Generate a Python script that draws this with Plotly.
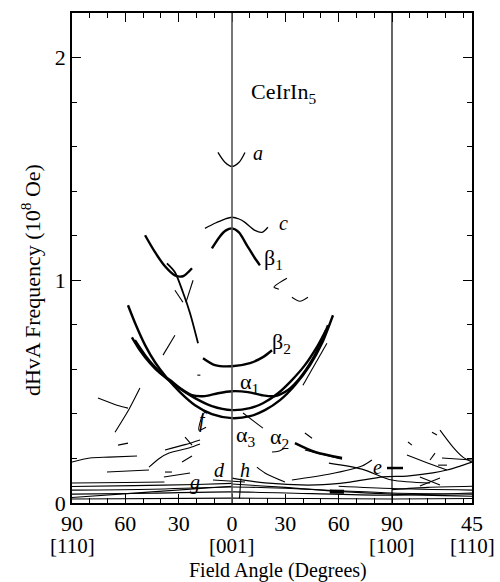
import plotly.graph_objects as go

# ---- main orbits (x = angle position: -90..0 = [110]->[001], 0..90 = [001]->[100], 90..135 = [100]->[110]) ----
a_x = [-7.9, -4, 0, 4, 7.3]
a_y = [1.574, 1.530, 1.511, 1.530, 1.574]
c_x = [-15.2, -9.6, -4, 0, 4, 7.3, 12.9, 16.9, 20.2]
c_y = [1.233, 1.256, 1.275, 1.283, 1.275, 1.260, 1.224, 1.215, 1.238]
b1_x = [-11.3, -6.8, -3.4, 0, 3.9, 8.4, 12.9, 15.7]
b1_y = [1.143, 1.197, 1.224, 1.233, 1.215, 1.157, 1.099, 1.067]
b2_x = [-16.3, -9.6, 0, 10.1, 17.4, 22.5]
b2_y = [0.650, 0.619, 0.614, 0.628, 0.655, 0.686]
a1_x = [-56.3, -51.8, -46.1, -40.5, -34.9, -29.3, -22.5, -15.2, -7.9, 0, 9, 16.9, 24.2, 31.5, 38.2, 45, 50.6, 54]
a1_y = [0.744, 0.686, 0.628, 0.583, 0.552, 0.516, 0.484, 0.480, 0.493, 0.502, 0.498, 0.484, 0.480, 0.507, 0.561, 0.641, 0.731, 0.798]
a3_x = [-58.5, -54, -48.9, -43.3, -36.6, -29.3, -20.8, -11.3, 0, 10.1, 18.5, 27, 35.4, 43.9, 50.6, 56.8]
a3_y = [0.888, 0.798, 0.709, 0.632, 0.561, 0.498, 0.439, 0.399, 0.381, 0.390, 0.417, 0.462, 0.529, 0.619, 0.717, 0.843]
a2_x = [-54.6, -48.9, -43.3, -37.7, -30.4, -20.8, -11.3, 0, 10.1, 17.4, 25.9, 33.7, 41, 48.4, 52.9]
a2_y = [0.731, 0.664, 0.610, 0.565, 0.520, 0.471, 0.435, 0.417, 0.426, 0.448, 0.493, 0.552, 0.619, 0.709, 0.776]
l1_x = [-48.9, -43.3, -37.7, -32.1, -27.6, -22.5]
l1_y = [1.202, 1.126, 1.063, 1.022, 1.018, 1.054]
l2_x = [-36.6, -32.1, -27.6, -23.6, -19.1]
l2_y = [1.076, 1.036, 0.946, 0.852, 0.717]
e1_x = [0, 18.5, 47.8, 66.4, 85, 98.4, 113, 120.9, 135]
e1_y = [0.112, 0.090, 0.081, 0.094, 0.117, 0.121, 0.135, 0.148, 0.184]
thick_seg_x = [35.4, 46.7, 61.9]
thick_seg_y = [0.269, 0.229, 0.202]

# ---- thin fragments: (x list, y list) ----
upper_frags = [
    ([-32.1, -27.6], [0.955, 0.901]),
    ([-21.9, -25.9], [1.000, 0.901]),
    ([30.9, 23.6, 26.4], [1.009, 0.969, 0.960]),
    ([33.7, 38.2, 42.7], [0.924, 0.906, 0.924]),
    ([53.4, 39.9], [0.717, 0.529]),
    ([6.2, 17.4], [0.404, 0.336]),
    ([-16.3, -18.6, -14.6], [0.404, 0.327, 0.340]),
    ([-19.5, -17.8], [0.574, 0.574]),
]
left_frags = [
    ([-75.4, -64.7, -58.5], [0.471, 0.439, 0.426]),
    ([-51.8, -58.0, -65.8], [0.516, 0.42, 0.318]),
    ([-32.1, -38.8], [0.753, 0.664]),
    ([-64.1, -58.5], [0.260, 0.269]),
    ([-90, -79.9, -69.2, -53.4], [0.184, 0.202, 0.206, 0.211]),
    ([-70.3, -46.7], [0.139, 0.148]),
    ([-46.7, -40.5, -35.4, -24.2, -18], [0.161, 0.202, 0.224, 0.247, 0.265]),
    ([-37.7, -26.4, -18], [0.238, 0.262, 0.283]),
    ([-26.4, -22.5], [0.296, 0.260]),
    ([-37.7, -33.8], [0.139, 0.139]),
    ([-38.3, -23.6], [0.117, 0.135]),
    ([-28.1, -22.5], [0.184, 0.211]),
]
right_frags = [
    ([41, 61.9], [0.238, 0.197]),
    ([41, 45], [0.314, 0.291]),
    ([22.5, 26, 29.8], [0.229, 0.232, 0.247]),
    ([14, 18.5, 29.8], [0.161, 0.135, 0.094]),
    ([33.7, 55.1, 73.1, 78.7], [0.103, 0.130, 0.166, 0.193]),
    ([54.5, 73.1, 90, 111.4], [0.179, 0.152, 0.103, 0.090]),
    ([117, 124.3, 129.9, 135], [0.327, 0.251, 0.206, 0.184]),
    ([112.5, 115.3], [0.318, 0.305]),
    ([99, 101.2], [0.274, 0.260]),
    ([98.4, 110, 120.9], [0.215, 0.18, 0.148]),
    ([111.4, 114.2], [0.193, 0.224]),
    ([118.1, 135], [0.202, 0.193]),
    ([115.9, 120.9], [0.170, 0.170]),
    ([105.7, 117], [0.117, 0.081]),
    ([105.7, 117], [0.076, 0.112]),
    ([-10.7, 7.3], [0.103, 0.094]),
    ([5, 4.2], [0.11, 0.02]),
]
bottom_lines = [
    ([-90, -60, -38], [0.090, 0.092, 0.094]),
    ([-90, -55, -20, 0], [0.074, 0.078, 0.083, 0.088]),
    ([-90, -45, 0, 30, 60, 90, 135], [0.058, 0.062, 0.072, 0.066, 0.055, 0.045, 0.040]),
    ([-90, -45, 0, 45, 90, 135], [0.040, 0.044, 0.050, 0.042, 0.035, 0.045]),
    ([-90, -45, 0], [0.025, 0.050, 0.075]),
    ([0, 30, 60, 90, 135], [0.085, 0.070, 0.052, 0.040, 0.030]),
    ([-90, 0, 90, 135], [0.018, 0.022, 0.018, 0.020]),
    ([90, 110, 135], [0.060, 0.070, 0.075]),
    ([60, 90, 135], [0.075, 0.065, 0.058]),
]
blob_x = [55, 63]
blob_y = [0.052, 0.050]
dash_e_x = [87.2, 96.2]
dash_e_y = [0.157, 0.157]

# ---- axis ticks ----
x_tickvals = [-90, -60, -30, 0, 30, 60, 90, 135]
x_ticktext = ["90", "60", "30", "0", "30", "60", "90", "45"]
dir_vals = [-90, 0, 90, 135]
dir_text = ["[110]", "[001]", "[100]", "[110]"]
y_tickvals = [0, 1, 2]
y_ticktext = ["0", "1", "2"]

# ---- labels ----
label_text = ["<i>a</i>", "<i>c</i>", "β<sub>1</sub>", "β<sub>2</sub>", "α<sub>1</sub>", "α<sub>3</sub>",
              "α<sub>2</sub>", "<i>d</i>", "<i>h</i>", "<i>g</i>", "<i>e</i>", "<i>f</i>"]
label_x = [14.6, 28.7, 23.5, 28, 10, 8, 26.5, -6.8, 7.3, -20.8, 82.1, -16.5]
label_y = [1.57, 1.256, 1.095, 0.717, 0.54, 0.30, 0.292, 0.148, 0.148, 0.094, 0.161, 0.37]
label_size = [20, 20, 22, 22, 22, 22, 22, 20, 20, 20, 20, 20]

FONT = "Liberation Serif"
FS = 22
fig = go.Figure()


def add(xs, ys, w):
    fig.add_trace(go.Scatter(x=xs, y=ys, mode="lines",
                             line=dict(color="black", width=w, shape="spline", smoothing=0.8),
                             hoverinfo="skip", showlegend=False))


for xs, ys in [(a_x, a_y), (c_x, c_y)]:
    add(xs, ys, 1.3)
for xs, ys in [(b1_x, b1_y), (b2_x, b2_y), (a1_x, a1_y), (a2_x, a2_y), (a3_x, a3_y),
               (l1_x, l1_y), (thick_seg_x, thick_seg_y)]:
    add(xs, ys, 2.4)
add(l2_x, l2_y, 1.8)
add(e1_x, e1_y, 1.2)
for xs, ys in upper_frags + left_frags + right_frags + bottom_lines:
    add(xs, ys, 1.1)
add(blob_x, blob_y, 4)
add(dash_e_x, dash_e_y, 2.5)

for t, x, y, s in zip(label_text, label_x, label_y, label_size):
    fig.add_annotation(x=x, y=y, text=t, showarrow=False, xanchor="center", yanchor="middle",
                       font=dict(family=FONT, size=s, color="black"))
fig.add_annotation(x=29, y=1.84, text="CeIrIn<sub>5</sub>", showarrow=False,
                   font=dict(family=FONT, size=FS, color="black"))

for v, t in zip(dir_vals, dir_text):
    fig.add_annotation(x=v, xref="x", y=-0.087, yref="paper", text=t, showarrow=False,
                       xanchor="center", yanchor="middle", font=dict(family=FONT, size=21, color="black"))
fig.add_annotation(x=0.515, xref="paper", y=-0.137, yref="paper", text="Field Angle (Degrees)",
                   showarrow=False, xanchor="center", yanchor="middle",
                   font=dict(family=FONT, size=20, color="black"))
fig.add_annotation(x=0, xref="paper", xshift=-41, y=0.455, yref="paper",
                   text="dHvA Frequency (10<sup>8</sup> Oe)", textangle=-90,
                   showarrow=False, xanchor="center", yanchor="middle",
                   font=dict(family=FONT, size=FS, color="black"))

fig.add_shape(type="line", xref="x", yref="paper", x0=0, x1=0, y0=0, y1=1,
              line=dict(color="#555555", width=1.6))
fig.add_shape(type="line", xref="x", yref="paper", x0=90, x1=90, y0=0, y1=1,
              line=dict(color="black", width=1.2))

fig.update_layout(
    width=500, height=582,
    margin=dict(l=72, r=28, t=13, b=79),
    paper_bgcolor="white", plot_bgcolor="white",
    font=dict(family=FONT, size=FS, color="black"),
    xaxis=dict(range=[-90, 135], tickmode="array", tickvals=x_tickvals, ticktext=x_ticktext,
               ticks="inside", ticklen=9, tickwidth=1.2, tickcolor="black",
               showline=True, linecolor="black", linewidth=1.5, mirror="ticks",
               showgrid=False, zeroline=False, automargin=False,
               minor=dict(tick0=0, dtick=10, ticks="inside", ticklen=5, tickwidth=1, tickcolor="black"),
               tickfont=dict(family=FONT, size=FS)),
    yaxis=dict(range=[0, 2.2], tickmode="array", tickvals=y_tickvals, ticktext=y_ticktext,
               ticks="inside", ticklen=9, tickwidth=1.2, tickcolor="black",
               showline=True, linecolor="black", linewidth=1.5, mirror="ticks",
               showgrid=False, zeroline=False, automargin=False,
               minor=dict(tick0=0, dtick=0.2, ticks="inside", ticklen=5, tickwidth=1, tickcolor="black"),
               tickfont=dict(family=FONT, size=FS)),
)

fig.write_html("out.html")
